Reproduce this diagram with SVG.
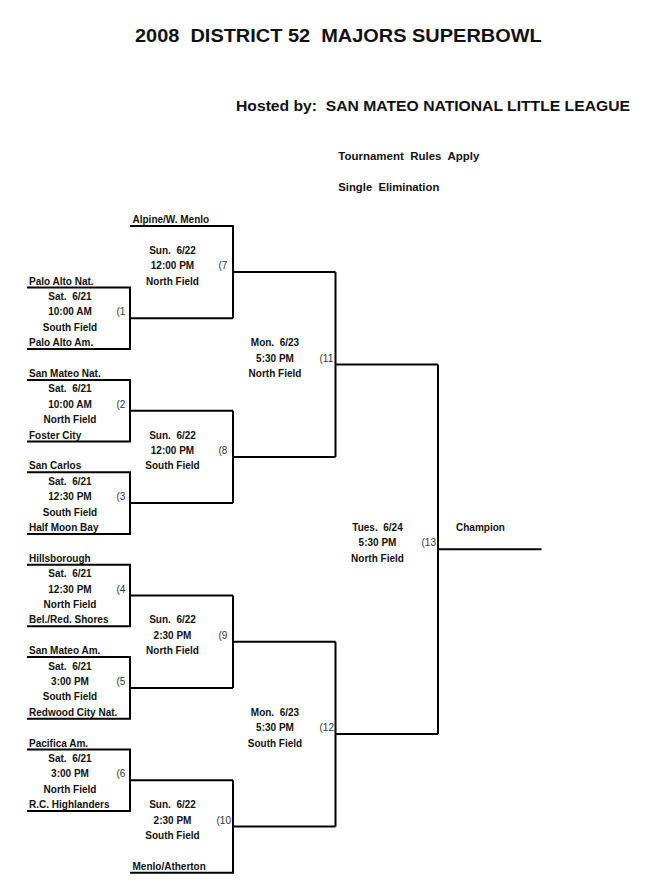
<svg xmlns="http://www.w3.org/2000/svg" width="648" height="896" viewBox="0 0 648 896">
<style>
text { font-family: "Liberation Sans", Arial, sans-serif; fill: #111; }
.h1 { font-size: 19px; font-weight: bold; }
.h2 { font-size: 15.5px; font-weight: bold; }
.h3 { font-size: 11px; font-weight: bold; }
.t { font-size: 10px; font-weight: bold; }
.c { font-size: 10px; font-weight: bold; text-anchor: middle; }
.n { font-size: 10px; fill: #333; }
.ln { fill: none; stroke: #000; stroke-width: 2; }
</style>
<rect width="648" height="896" fill="#fff"/>
<g id="header">
<text class="h1" x="135" y="41.7" xml:space="preserve" textLength="406.7" lengthAdjust="spacingAndGlyphs">2008  DISTRICT 52  MAJORS SUPERBOWL</text>
<text class="h2" x="236" y="111" xml:space="preserve" textLength="394" lengthAdjust="spacingAndGlyphs">Hosted by:  SAN MATEO NATIONAL LITTLE LEAGUE</text>
<text class="h3" x="338.3" y="160" xml:space="preserve" textLength="141" lengthAdjust="spacingAndGlyphs">Tournament  Rules  Apply</text>
<text class="h3" x="338.3" y="191" xml:space="preserve" textLength="101" lengthAdjust="spacingAndGlyphs">Single  Elimination</text>
</g>
<g id="connectors" class="ln">
<path d="M130 318.3H233"/>
<path d="M130 410.7H233"/>
<path d="M130 503.1H233"/>
<path d="M130 595.5H233"/>
<path d="M130 687.9H233"/>
<path d="M130 780.3H233"/>
<path d="M233 272.1H335.5"/>
<path d="M233 456.9H335.5"/>
<path d="M233 641.7H335.5"/>
<path d="M233 826.5H335.5"/>
<path d="M335.5 364.5H438"/>
<path d="M335.5 734.1H438"/>
<path d="M438 549.3H541.5"/>
</g>
<g id="game1">
<path class="ln" d="M27 287.5H130V349.1H27"/>
<text class="t" x="29" y="284.5">Palo Alto Nat.</text>
<text class="c" x="70" y="299.9" xml:space="preserve">Sat.  6/21</text>
<text class="c" x="70" y="315.3">10:00 AM</text>
<text class="c" x="70" y="330.7">South Field</text>
<text class="t" x="29" y="346.1">Palo Alto Am.</text>
<text class="n" x="116.5" y="315.3">(1</text>
</g>
<g id="game2">
<path class="ln" d="M27 379.9H130V441.5H27"/>
<text class="t" x="29" y="376.9">San Mateo Nat.</text>
<text class="c" x="70" y="392.3" xml:space="preserve">Sat.  6/21</text>
<text class="c" x="70" y="407.7">10:00 AM</text>
<text class="c" x="70" y="423.1">North Field</text>
<text class="t" x="29" y="438.5">Foster City</text>
<text class="n" x="116.5" y="407.7">(2</text>
</g>
<g id="game3">
<path class="ln" d="M27 472.3H130V533.9H27"/>
<text class="t" x="29" y="469.3">San Carlos</text>
<text class="c" x="70" y="484.7" xml:space="preserve">Sat.  6/21</text>
<text class="c" x="70" y="500.1">12:30 PM</text>
<text class="c" x="70" y="515.5">South Field</text>
<text class="t" x="29" y="530.9">Half Moon Bay</text>
<text class="n" x="116.5" y="500.1">(3</text>
</g>
<g id="game4">
<path class="ln" d="M27 564.7H130V626.3H27"/>
<text class="t" x="29" y="561.7">Hillsborough</text>
<text class="c" x="70" y="577.1" xml:space="preserve">Sat.  6/21</text>
<text class="c" x="70" y="592.5">12:30 PM</text>
<text class="c" x="70" y="607.9">North Field</text>
<text class="t" x="29" y="623.3">Bel./Red. Shores</text>
<text class="n" x="116.5" y="592.5">(4</text>
</g>
<g id="game5">
<path class="ln" d="M27 657.1H130V718.7H27"/>
<text class="t" x="29" y="654.1">San Mateo Am.</text>
<text class="c" x="70" y="669.5" xml:space="preserve">Sat.  6/21</text>
<text class="c" x="70" y="684.9">3:00 PM</text>
<text class="c" x="70" y="700.3">South Field</text>
<text class="t" x="29" y="715.7">Redwood City Nat.</text>
<text class="n" x="116.5" y="684.9">(5</text>
</g>
<g id="game6">
<path class="ln" d="M27 749.5H130V811.1H27"/>
<text class="t" x="29" y="746.5">Pacifica Am.</text>
<text class="c" x="70" y="761.9" xml:space="preserve">Sat.  6/21</text>
<text class="c" x="70" y="777.3">3:00 PM</text>
<text class="c" x="70" y="792.7">North Field</text>
<text class="t" x="29" y="808.1">R.C. Highlanders</text>
<text class="n" x="116.5" y="777.3">(6</text>
</g>
<g id="game7">
<path class="ln" d="M130 225.9H233V318.3"/>
<text class="t" x="132.5" y="222.9">Alpine/W. Menlo</text>
<text class="c" x="172.5" y="253.7" xml:space="preserve">Sun.  6/22</text>
<text class="c" x="172.5" y="269.1">12:00 PM</text>
<text class="c" x="172.5" y="284.5">North Field</text>
<text class="n" x="218.5" y="269.1">(7</text>
</g>
<g id="game8">
<path class="ln" d="M233 410.7V503.1"/>
<text class="c" x="172.5" y="438.5" xml:space="preserve">Sun.  6/22</text>
<text class="c" x="172.5" y="453.9">12:00 PM</text>
<text class="c" x="172.5" y="469.3">South Field</text>
<text class="n" x="218.5" y="453.9">(8</text>
</g>
<g id="game9">
<path class="ln" d="M233 595.5V687.9"/>
<text class="c" x="172.5" y="623.3" xml:space="preserve">Sun.  6/22</text>
<text class="c" x="172.5" y="638.7">2:30 PM</text>
<text class="c" x="172.5" y="654.1">North Field</text>
<text class="n" x="218.5" y="638.7">(9</text>
</g>
<g id="game10">
<path class="ln" d="M233 780.3V872.7H130"/>
<text class="c" x="172.5" y="808.1" xml:space="preserve">Sun.  6/22</text>
<text class="c" x="172.5" y="823.5">2:30 PM</text>
<text class="c" x="172.5" y="838.9">South Field</text>
<text class="t" x="132.5" y="869.7">Menlo/Atherton</text>
<text class="n" x="216.5" y="823.5">(10</text>
</g>
<g id="game11">
<path class="ln" d="M335.5 272.1V456.9"/>
<text class="c" x="275" y="346.1" xml:space="preserve">Mon.  6/23</text>
<text class="c" x="275" y="361.5">5:30 PM</text>
<text class="c" x="275" y="376.9">North Field</text>
<text class="n" x="319.5" y="361.5">(11</text>
</g>
<g id="game12">
<path class="ln" d="M335.5 641.7V826.5"/>
<text class="c" x="275" y="715.7" xml:space="preserve">Mon.  6/23</text>
<text class="c" x="275" y="731.1">5:30 PM</text>
<text class="c" x="275" y="746.5">South Field</text>
<text class="n" x="319.5" y="731.1">(12</text>
</g>
<g id="game13">
<path class="ln" d="M438 364.5V734.1"/>
<text class="c" x="377.5" y="530.9" xml:space="preserve">Tues.  6/24</text>
<text class="c" x="377.5" y="546.3">5:30 PM</text>
<text class="c" x="377.5" y="561.7">North Field</text>
<text class="n" x="421.5" y="546.3">(13</text>
</g>
<g id="champion">
<text class="t" x="456" y="530.9">Champion</text>
</g>
</svg>
